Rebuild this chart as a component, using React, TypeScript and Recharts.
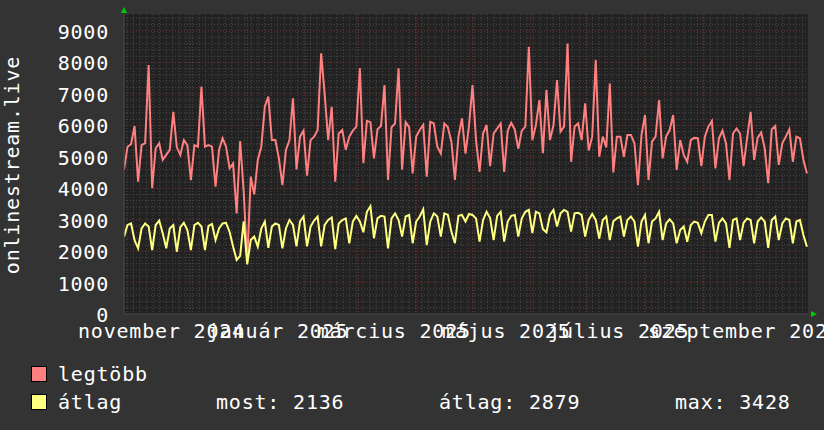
import React from 'react';
import { LineChart, Line, XAxis, YAxis, CartesianGrid } from 'recharts';

// "legtöbb" (max) series, one sample about every 1.88 days from late Oct 2024
const maxValues = [
  4580, 5320, 5400, 5980, 4210, 5370, 5430, 7920, 4000, 5270,
  5430, 4900, 5060, 5220, 6430, 5300, 5060, 5530, 5370, 4260,
  5370, 5320, 7230, 5320, 5370, 5320, 4050, 5220, 5590, 5320,
  4630, 4790, 3200, 5500, 3900, 1650, 4370, 3800, 4900, 5320,
  6590, 6910, 5530, 5530, 4950, 4100, 5220, 5530, 6860, 4600,
  5640, 5830, 4400, 5530, 5640, 5850, 8290, 7000, 5530, 6590,
  4210, 5740, 5850, 5220, 5640, 5830, 5960, 7810, 4800, 6140,
  6100, 4950, 5870, 5980, 7280, 4260, 5940, 6060, 7810, 4600,
  6100, 5940, 4470, 5640, 5850, 6010, 4370, 6110, 6060, 5320,
  5100, 6060, 5940, 5480, 4260, 5640, 6220, 5100, 5980, 7280,
  5530, 4520, 5740, 6010, 4700, 5740, 5900, 6060, 4520, 5830,
  6080, 5870, 5250, 5830, 5960, 8500, 5530, 6010, 6800, 5110,
  7120, 5530, 6000, 7440, 5800, 5960, 8600, 4840, 5960, 6060,
  5530, 6700, 5200, 5640, 8080, 5000, 5640, 5300, 7330, 4500,
  5640, 5640, 5000, 5690, 5690, 5430, 4100, 5690, 6330, 4260,
  5480, 5640, 6800, 4950, 5640, 5850, 6330, 4580, 5530, 5060,
  4840, 5530, 5600, 5590, 4700, 5640, 5960, 6140, 4630, 5590,
  5830, 5430, 4260, 5740, 5900, 5740, 4700, 5590, 6430, 4900,
  5610, 5770, 5270, 4160, 5870, 5980, 4740, 5430, 5640, 5870,
  4840, 5640, 5590, 4900, 4470,
];

// "átlag" (average) series, same sampling
const avgValues = [
  2460, 2830, 2880, 2350, 2090, 2720, 2880, 2780, 2035, 2830,
  2970, 2570, 2090, 2720, 2830, 1980, 2760, 2900, 2670, 2035,
  2830, 2900, 2780, 2035, 2800, 2860, 2350, 2720, 2880, 2900,
  2610, 2140, 1720, 1850, 2950, 1580, 2350, 2460, 2140, 2720,
  2940, 2100, 2780, 2880, 2830, 2090, 2720, 2990, 2830, 2150,
  2940, 3100, 2150, 2780, 2970, 3100, 2150, 2830, 2990, 3070,
  2060, 2880, 2990, 3040, 2250, 2940, 3120, 2940, 2600, 3250,
  3428, 2410, 3040, 3120, 3100, 2090, 3040, 3200, 2990, 2460,
  3100, 3150, 2250, 2940, 3100, 3330, 2190, 2940, 3200, 3100,
  2460, 3200, 3150, 2620, 2250, 3120, 3150, 2940, 3180, 3150,
  3040, 2300, 2990, 3250, 3050, 2350, 3120, 3250, 2300, 2940,
  3120, 3150, 2460, 3040, 3250, 3310, 2570, 3250, 3200, 2700,
  2600, 3150, 3310, 2780, 3200, 3310, 3250, 2620, 3200, 3220,
  3150, 2460, 2990, 3180, 2990, 2400, 2990, 3100, 2350, 2950,
  3040, 3100, 2460, 2990, 3100, 2940, 2140, 2940, 3150, 2250,
  2940, 3040, 3250, 2350, 2880, 3010, 2880, 2250, 2670, 2780,
  2300, 2830, 2940, 2900, 2570, 2940, 3150, 3150, 2300, 2900,
  3040, 2880, 2100, 2990, 3040, 2350, 2900, 3040, 2990, 2250,
  2940, 3070, 2940, 2100, 2990, 3100, 2350, 2880, 3040, 2990,
  2250, 2940, 2990, 2510, 2136,
];

const SPAN_DAYS = 365;
const SAMPLE_SPAN = 194.3;
const STEP_DAYS = SPAN_DAYS / SAMPLE_SPAN;

// days since 27 Oct 2024
const monthStartDays = [5, 35, 66, 97, 125, 156, 186, 217, 247, 278, 309, 339];
const labelDays = [20, 82, 144, 204, 264, 331];
const tickLabels = ['november 2024', 'január 2025', 'március 2025', 'május 2025', 'július 2025', 'szeptember 2025'];
const yTicks = [0, 1000, 2000, 3000, 4000, 5000, 6000, 7000, 8000, 9000];
const Y_MAX = 9540;

const seriesNames = ['legtöbb', 'átlag'];
const seriesColors = ['#ff8080', '#ffff80'];
const statLabels = ['most', 'átlag', 'max'];
const statValues = [2136, 2879, 3428];
const axisTitle = 'onlinestream.live';

const data = maxValues.map((v, i) => ({ day: i * STEP_DAYS, max: v, avg: avgValues[i] }));

const minorYValues: number[] = [];
for (let v = 200; v < Y_MAX; v += 200) if (v % 1000 !== 0) minorYValues.push(v);
const majorYValues = yTicks.filter((v) => v > 0);
const minorXValues: number[] = [];
for (let d = 1.5; d < SPAN_DAYS; d += 3.5) minorXValues.push(d);

const FONT = '"DejaVu Sans Mono", monospace';
const FS = 20;
const LS = 0.8;

const XTick = (props: any) => {
  const { x, y, payload } = props;
  const idx = labelDays.indexOf(payload.value);
  return (
    <text x={x} y={y + 24} textAnchor="middle" fill="#ffffff" fontFamily={FONT} fontSize={FS} letterSpacing={LS}>
      {idx >= 0 ? tickLabels[idx] : ''}
    </text>
  );
};

const YTick = (props: any) => {
  const { x, y, payload } = props;
  return (
    <text x={x} y={y + 8} textAnchor="end" fill="#ffffff" fontFamily={FONT} fontSize={FS} letterSpacing={LS}>
      {String(payload.value)}
    </text>
  );
};

export default function App() {
  return (
    <div style={{ position: 'absolute', left: 0, top: 0, width: 824, height: 430, background: '#333333', overflow: 'hidden' }}>
      <LineChart width={824} height={430} data={data} margin={{ top: 14, right: 16, left: 0, bottom: 0 }}>
        <CartesianGrid
          fill="#222222"
          stroke="#4a4a4a"
          strokeDasharray="1 2"
          horizontalValues={minorYValues}
          verticalValues={minorXValues}
        />
        <CartesianGrid
          stroke="#7a3232"
          strokeDasharray="1 2"
          horizontalValues={majorYValues}
          verticalValues={monthStartDays}
        />
        <XAxis
          dataKey="day"
          type="number"
          domain={[0, SPAN_DAYS]}
          ticks={labelDays}
          interval={0}
          tick={<XTick />}
          tickSize={0}
          tickMargin={0}
          tickLine={false}
          axisLine={{ stroke: '#4a4a4a' }}
          height={116}
          allowDataOverflow
        />
        <YAxis
          type="number"
          domain={[0, Y_MAX]}
          ticks={yTicks}
          interval={0}
          tick={<YTick />}
          tickSize={0}
          tickMargin={15}
          tickLine={false}
          axisLine={{ stroke: '#4a4a4a' }}
          width={124}
          allowDataOverflow
        />
        <Line type="linear" dataKey="max" stroke={seriesColors[0]} strokeWidth={2} dot={false} activeDot={false} isAnimationActive={false} />
        <Line type="linear" dataKey="avg" stroke={seriesColors[1]} strokeWidth={2} dot={false} activeDot={false} isAnimationActive={false} />
      </LineChart>
      <svg width={824} height={430} style={{ position: 'absolute', left: 0, top: 0, pointerEvents: 'none' }}>
        <polygon points="121,13 127,13 124,7" fill="#00cc00" />
        <polygon points="811,311 811,317 817,314" fill="#00cc00" />
        <text
          x={0}
          y={0}
          transform="translate(19,165) rotate(-90)"
          textAnchor="middle"
          fill="#ffffff"
          fontFamily={FONT}
          fontSize={FS}
          letterSpacing={LS}
        >
          {axisTitle}
        </text>
        {seriesNames.map((name, i) => (
          <g key={name}>
            <rect x={31.5} y={366.5 + i * 28} width={15} height={15} fill={seriesColors[i]} stroke="#000" strokeWidth={1} />
            <text x={58} y={381 + i * 28} fill="#ffffff" fontFamily={FONT} fontSize={FS} letterSpacing={LS}>
              {name}
            </text>
          </g>
        ))}
        {statLabels.map((lab, j) => (
          <text key={lab} x={[216, 439, 675][j]} y={409} fill="#ffffff" fontFamily={FONT} fontSize={FS} letterSpacing={LS}>
            {`${lab}: ${statValues[j]}`}
          </text>
        ))}
      </svg>
    </div>
  );
}
